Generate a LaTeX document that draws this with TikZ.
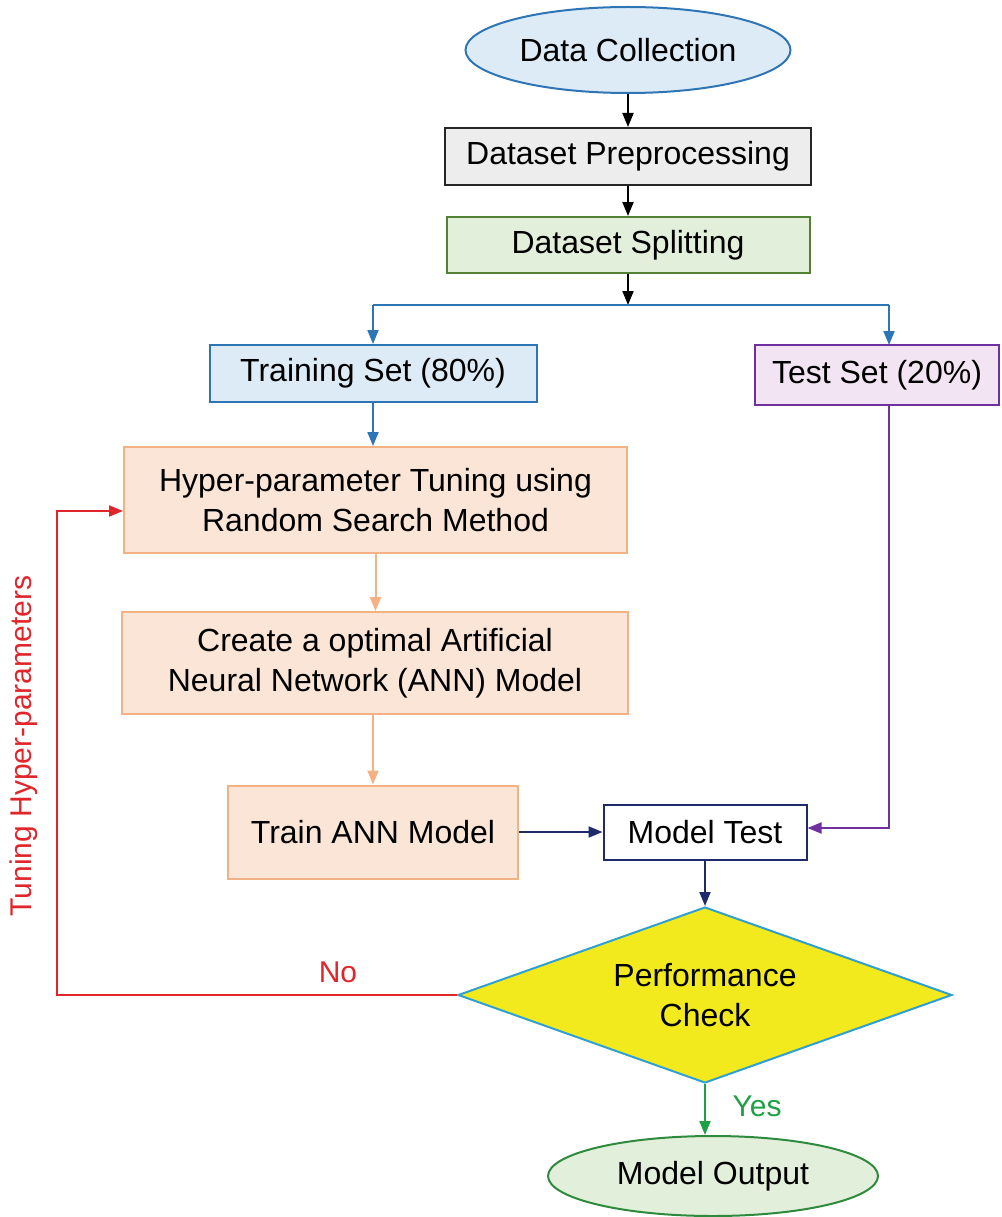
\documentclass[tikz,border=0pt]{standalone}
\usepackage{fontspec}
\setmainfont{Liberation Sans}
\usetikzlibrary{shapes.geometric,arrows.meta}
\definecolor{cblue}{HTML}{2E75B6}
\definecolor{cbluefill}{HTML}{DDEBF7}
\definecolor{cgrayfill}{HTML}{EDEDED}
\definecolor{cgreen}{HTML}{548235}
\definecolor{cgreenfill}{HTML}{E2EFDA}
\definecolor{cpurple}{HTML}{7030A0}
\definecolor{cpurplefill}{HTML}{F2E4F2}
\definecolor{corange}{HTML}{F4B183}
\definecolor{corangefill}{HTML}{FBE5D6}
\definecolor{cnavy}{HTML}{1F2A6B}
\definecolor{cyellow}{HTML}{F2EA1D}
\definecolor{cdiam}{HTML}{2FA0D0}
\definecolor{cred}{HTML}{E0262B}
\definecolor{cyes}{HTML}{1FA045}
\definecolor{coutline}{HTML}{2E8B3E}
\tikzset{
  box/.style={draw, line width=2pt, inner sep=0pt, align=center,
    font=\fontsize{32}{40}\selectfont},
  arr/.style={line width=2pt, -{Triangle[length=14pt,width=11pt]}},
  lbl/.style={font=\fontsize{30}{36}\selectfont, inner sep=0pt}
}
\begin{document}
\begin{tikzpicture}[x=1pt,y=-1pt]
\useasboundingbox (0,0) rectangle (1001,1217);
% nodes
\node[box, ellipse, fill=cbluefill, draw=cblue, minimum width=325pt, minimum height=86pt] (dc) at (628,50) {Data Collection};
\node[box, rectangle, fill=cgrayfill, draw=black!85, minimum width=366pt, minimum height=57pt] (pre) at (628,156.5) {Dataset Preprocessing};
\node[box, rectangle, fill=cgreenfill, draw=cgreen, minimum width=363pt, minimum height=56pt] (split) at (628,245) {Dataset Splitting};
\node[box, rectangle, fill=cbluefill, draw=cblue, minimum width=327pt, minimum height=57pt] (train) at (373,373.5) {Training Set (80\%)};
\node[box, rectangle, fill=cpurplefill, draw=cpurple, minimum width=244pt, minimum height=60pt] (test) at (877,375) {Test Set (20\%)};
\node[box, rectangle, fill=corangefill, draw=corange, minimum width=503pt, minimum height=106pt] (hyp) at (375.5,500) {Hyper-parameter Tuning using\\Random Search Method};
\node[box, rectangle, fill=corangefill, draw=corange, minimum width=506pt, minimum height=102pt] (ann) at (375,663) {Create a optimal Artificial\\Neural Network (ANN) Model};
\node[box, rectangle, fill=corangefill, draw=corange, minimum width=290pt, minimum height=93pt] (tr) at (373,832) {Train ANN Model};
\node[box, rectangle, fill=white, draw=cnavy, minimum width=203pt, minimum height=55pt] (mt) at (705,832) {Model Test};
\node[box, diamond, aspect=2.8, fill=cyellow, draw=cdiam, minimum width=494pt, minimum height=176pt] (pc) at (705,995) {Performance\\Check};
\node[box, ellipse, fill=cgreenfill, draw=coutline, minimum width=330pt, minimum height=80pt] (mo) at (713,1176) {Model Output};
% helper coordinates
\coordinate (junc) at (628,305);
\coordinate (tl) at (373,305);
\coordinate (tr2) at (889,305);
\coordinate (ttop) at (889,345);
\coordinate (tbot) at (889,405);
\coordinate (corner) at (889,828);
\coordinate (lb) at (57,995);
\coordinate (lt) at (57,511);
% connectors
\draw[arr, black] (dc.south) -- (pre.north);
\draw[arr, black] (pre.south) -- (split.north);
\draw[arr, black] (split.south) -- (junc);
\draw[line width=2pt, cblue] (tl) -- (tr2);
\draw[arr, cblue] (tl) -- (train.north);
\draw[arr, cblue] (tr2) -- (ttop);
\draw[arr, cblue] (train.south) -- (hyp.north -| train.south);
\draw[arr, corange] (hyp.south) -- (ann.north -| hyp.south);
\draw[arr, corange] (ann.south -| tr.north) -- (tr.north);
\draw[arr, cnavy] (tr.east) -- (mt.west);
\draw[arr, cpurple] (tbot) -- (corner) -- (mt.east |- corner);
\draw[arr, cnavy] (mt.south) -- (pc.north);
\draw[arr, cred] (pc.west) -- (lb) -- (lt) -- (hyp.west |- lt);
\draw[arr, cyes] (pc.south) -- (pc.south |- mo.north);
% labels
\node[lbl, text=cred] (no) at (338,972) {No};
\node[lbl, text=cyes] (yes) at (757,1106) {Yes};
\node[lbl, text=cred, rotate=90] (tun) at (24,746) {Tuning Hyper-parameters};
\end{tikzpicture}
\end{document}
